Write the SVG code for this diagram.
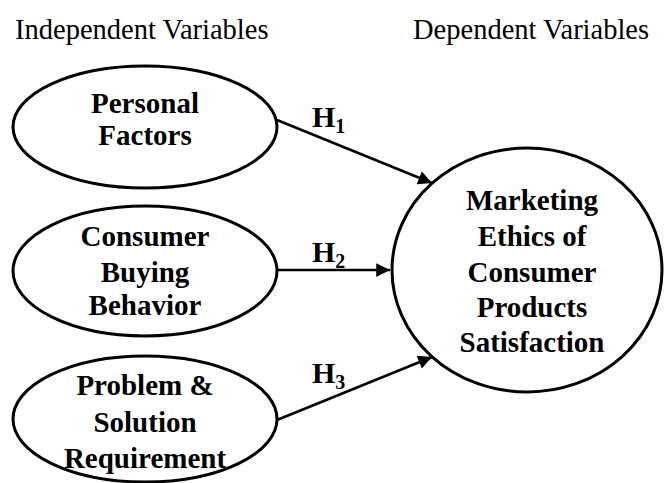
<svg xmlns="http://www.w3.org/2000/svg" width="666" height="483" viewBox="0 0 666 483">
  <defs>
    <marker id="arrow" viewBox="0 0 10 10" refX="10" refY="5" markerWidth="7" markerHeight="5.5" markerUnits="strokeWidth" orient="auto">
      <path d="M0,0 L10,5 L0,10 z" fill="#000"/>
    </marker>
    <style>
      .node { fill: #fff; stroke: #000; stroke-width: 3; }
      .label { font-family: "Liberation Serif", "Times New Roman", serif; font-weight: bold; font-size: 29px; text-anchor: middle; fill: #000; }
      .head { font-family: "Liberation Serif", "Times New Roman", serif; font-size: 28.5px; fill: #000; }
      .hyp { font-family: "Liberation Serif", "Times New Roman", serif; font-weight: bold; font-size: 30px; fill: #000; }
      .sub { font-size: 20px; }
      .edge { stroke: #000; stroke-width: 2.5; fill: none; marker-end: url(#arrow); }
    </style>
  </defs>
  <rect width="666" height="483" fill="#fff"/>

  <text class="head" x="15" y="39">Independent Variables</text>
  <text class="head" x="413" y="39">Dependent Variables</text>

  <g id="connectors">
    <line class="edge" x1="277" y1="120" x2="432" y2="183"/>
    <line class="edge" x1="277" y1="270" x2="390" y2="270"/>
    <line class="edge" x1="277" y1="420" x2="432" y2="357"/>
    <text class="hyp" x="312" y="127">H<tspan class="sub" dy="6">1</tspan></text>
    <text class="hyp" x="312" y="262">H<tspan class="sub" dy="6">2</tspan></text>
    <text class="hyp" x="312" y="383">H<tspan class="sub" dy="6">3</tspan></text>
  </g>

  <g id="personal-factors">
    <ellipse class="node" cx="145" cy="127" rx="132" ry="61"/>
    <text class="label" x="145" y="113">Personal</text>
    <text class="label" x="145" y="145">Factors</text>
  </g>

  <g id="consumer-buying-behavior">
    <ellipse class="node" cx="145" cy="271" rx="132" ry="65"/>
    <text class="label" x="145" y="246">Consumer</text>
    <text class="label" x="145" y="282">Buying</text>
    <text class="label" x="145" y="315">Behavior</text>
  </g>

  <g id="problem-solution-requirement">
    <ellipse class="node" cx="145" cy="419" rx="132" ry="63"/>
    <text class="label" x="145" y="395">Problem &amp;</text>
    <text class="label" x="145" y="432">Solution</text>
    <text class="label" x="145" y="468">Requirement</text>
  </g>

  <g id="marketing-ethics">
    <ellipse class="node" cx="527" cy="270" rx="135" ry="122"/>
    <text class="label" x="532" y="210">Marketing</text>
    <text class="label" x="532" y="246">Ethics of</text>
    <text class="label" x="532" y="282">Consumer</text>
    <text class="label" x="532" y="317">Products</text>
    <text class="label" x="532" y="352">Satisfaction</text>
  </g>
</svg>
